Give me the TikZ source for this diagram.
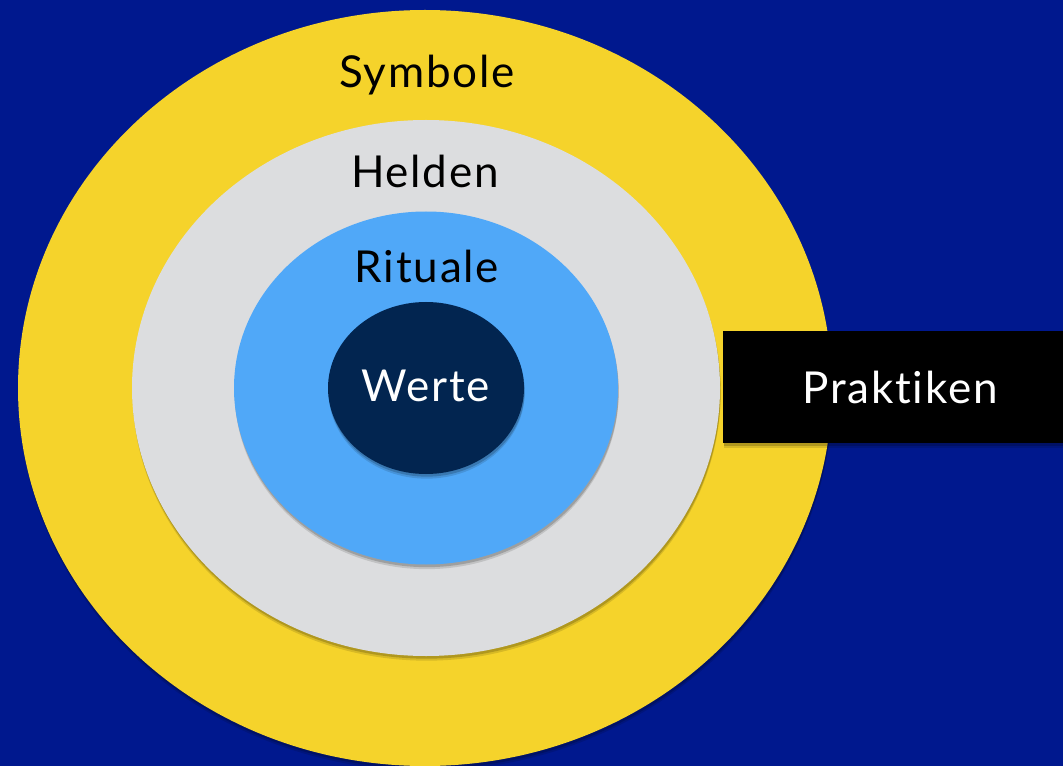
\documentclass[tikz,border=0pt]{standalone}
\usepackage{fontspec}
\setmainfont{Lato}[Ligatures=NoCommon,LetterSpace=4]
\usetikzlibrary{shapes.geometric,shadows}

\definecolor{bgblue}{RGB}{0,24,142}
\definecolor{symbolgold}{RGB}{245,211,43}
\definecolor{heldengray}{RGB}{220,221,223}
\definecolor{ritualblue}{RGB}{80,168,248}
\definecolor{wertenavy}{RGB}{2,37,80}

\tikzset{every picture/.style={line width=0.75pt}}
\tikzset{
  softshadow/.style={
    drop shadow={shadow xshift=0.5pt, shadow yshift=-3.5pt, opacity=0.12, fill=black},
    drop shadow={shadow xshift=0.5pt, shadow yshift=-2pt, opacity=0.18, fill=black}},
  ring/.style={ellipse, draw=none, inner sep=0pt, softshadow},
  ringtext/.style={anchor=base, inner sep=0.75pt, font=\fontsize{33}{40}\selectfont}
}

\begin{document}
\begin{tikzpicture}[x=0.75pt,y=0.75pt,yscale=-1,xscale=1]
    \useasboundingbox (0,0) rectangle (1063,766);
    \fill [bgblue] (0,0) rectangle (1063,766);

    %Ellipse: Symbole
    \node [ring, fill=symbolgold, minimum width=610.5pt, minimum height=567pt] (symbole) at (425,388) {};
    %Rectangle: Praktiken
    \node [rectangle, fill=black, inner sep=0pt, minimum width=265.5pt, minimum height=84pt, softshadow] (praktikenbox) at (900,387) {};
    %Ellipse: Helden
    \node [ring, fill=heldengray, minimum width=441pt, minimum height=402pt] (helden) at (426,388) {};
    %Ellipse: Rituale
    \node [ring, fill=ritualblue, minimum width=288pt, minimum height=264.75pt] (rituale) at (426,388) {};
    %Ellipse: Werte
    \node [ring, fill=wertenavy, minimum width=147pt, minimum height=129pt] (werte) at (426,388) {};

    % Text Node
    \node [ringtext] (symboletext) at (427,88) {Symbole};
    % Text Node
    \node [ringtext] (heldentext) at (425,188) {Helden};
    % Text Node
    \node [ringtext] (rituraletext) at (427,283) {Rituale};
    % Text Node
    \node [ringtext, text=white] (wertetext) at (426,402) {Werte};
    % Text Node
    \node [ringtext, text=white] (praktikentext) at (900,403) {Praktiken};
\end{tikzpicture}
\end{document}
